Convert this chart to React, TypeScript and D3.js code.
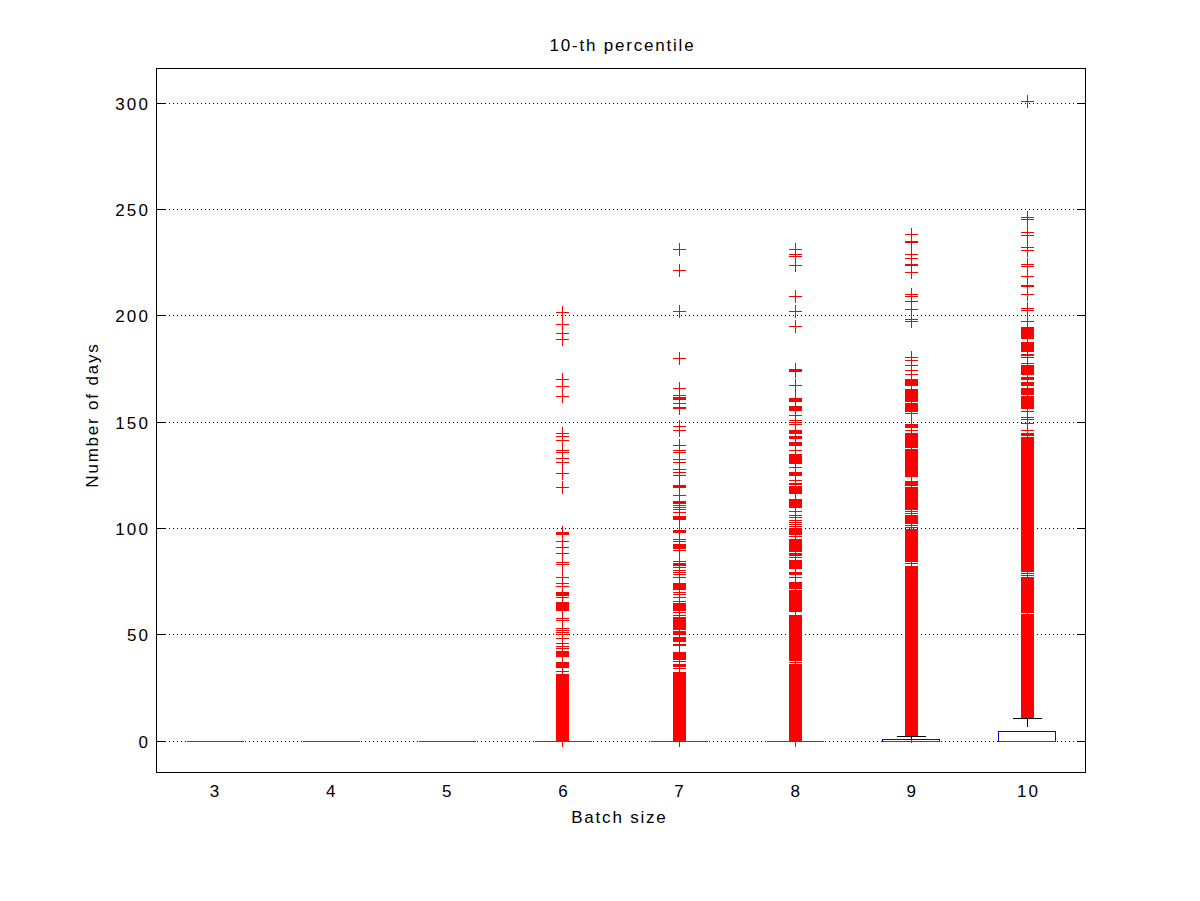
import React from 'react';
import * as d3 from 'd3';

const categories = ['3', '4', '5', '6', '7', '8', '9', '10'];
const q1 = [0, 0, 0, 0, 0, 0, 0, 0];
const medians = [0, 0, 0, 0, 0, 0, 0, 0];
const q3 = [0, 0, 0, 0, 0, 0, 0.65, 4.3];
const whiskerLow = [0, 0, 0, 0, 0, 0, 0, 0];
const whiskerHigh = [0, 0, 0, 0, 0, 0, 2.1, 10.4];

const outliers6 = [201.4, 195.8, 191.5, 188.7, 169.9, 166.6, 161.9, 144.5, 143.1, 141.2, 136.8, 135.8, 132.7, 130.9, 125.7, 119.1, 93.7, 90.9, 88.0, 84.1, 83.0, 77.0, 73.9, 72.8, 67.6, 57.8, 56.7, 53.1, 52.0, 51.0, 49.9, 48.4, 45.7, 44.6, 43.7, 32.8];
const dense6: [number, number][] = [[97.1, 98.2], [68.4, 70.0], [61.4, 65.0], [39.8, 42.1], [34.7, 36.8], [0.2, 31.1]];

const outliers7 = [231.3, 221.1, 201.9, 180.1, 165.8, 162.6, 158.8, 147.9, 145.9, 138.8, 136.7, 135.8, 132.4, 131.2, 127.5, 126.2, 125.0, 115.6, 110.8, 109.9, 108.7, 107.6, 104.1, 94.9, 93.8, 89.7, 84.6, 81.6, 80.3, 79.3, 78.1, 76.8, 70.0, 68.7, 67.6, 65.7, 60.4, 59.0, 45.5, 44.7, 37.5, 33.9];
const dense7: [number, number][] = [[160.8, 161.6], [156.2, 157.0], [119.3, 120.1], [111.7, 112.5], [104.8, 105.6], [98.2, 99.0], [90.6, 92.5], [82.7, 83.5], [72.8, 73.9], [71.1, 72.0], [61.2, 64.7], [52.5, 58.0], [50.1, 51.7], [46.6, 48.8], [38.5, 41.8], [35.0, 35.9], [0.2, 32.3]];

const outliers8 = [231.3, 228.9, 227.8, 223.8, 208.9, 201.9, 194.8, 167.2, 152.9, 150.6, 149.8, 149.0, 136.7, 128.8, 122.3, 108.1, 106.0, 104.9, 103.8, 102.9, 101.9, 100.9, 96.2, 94.9, 86.2, 77.1, 36.9];
const dense8: [number, number][] = [[173.6, 174.9], [159.8, 161.0], [155.5, 157.2], [144.5, 145.9], [142.1, 143.2], [138.9, 140.4], [133.5, 134.7], [130.7, 132.8], [124.8, 126.2], [120.5, 121.1], [116.5, 119.6], [112.4, 113.4], [109.7, 111.9], [97.3, 99.8], [89.3, 94.1], [87.1, 88.1], [81.1, 84.9], [78.2, 79.2], [71.5, 74.7], [67.1, 70.7], [60.7, 66.5], [37.8, 58.8], [0.2, 35.8]];

const outliers9 = [238.4, 228.7, 226.7, 224.3, 223.5, 220.3, 209.9, 208.9, 206.8, 202.9, 198.1, 197.1, 180.5, 178.8, 176.8, 174.4, 172.4, 153.8, 146.0, 137.3, 136.6, 107.9, 106.8, 101.5, 100.6, 83.6, 82.3, 81.4];
const dense9: [number, number][] = [[234.3, 235.1], [167.1, 170.0], [162.6, 165.5], [159.8, 161.9], [154.9, 158.7], [147.5, 148.8], [142.5, 144.4], [137.9, 141.8], [129.8, 136.0], [127.9, 129.2], [124.6, 127.1], [120.1, 122.2], [115.6, 119.3], [108.8, 114.9], [102.3, 106.0], [84.4, 99.5], [2.2, 81.0]];

const outliers10 = [301.0, 246.1, 245.1, 239.1, 237.7, 232.1, 230.6, 224.0, 223.0, 218.6, 214.2, 213.6, 209.9, 203.5, 202.5, 197.3, 180.4, 177.4, 155.2, 152.2, 151.2, 149.2, 146.2, 78.8, 77.8, 60.3];
const dense10: [number, number][] = [[189.4, 194.4], [183.4, 187.3], [181.4, 182.0], [172.3, 176.4], [169.9, 170.9], [167.3, 168.7], [162.9, 165.9], [156.6, 161.9], [143.6, 144.8], [79.8, 142.8], [60.7, 76.8], [10.6, 59.7]];

const outliers: number[][] = [[], [], [], outliers6, outliers7, outliers8, outliers9, outliers10];
const denseRuns: [number, number][][] = [[], [], [], dense6, dense7, dense8, dense9, dense10];

const yTicks = [0, 50, 100, 150, 200, 250, 300];
const title = '10-th percentile';
const xLabel = 'Batch size';
const yLabel = 'Number of days';

const FONT = '"Liberation Sans", Arial, Helvetica, sans-serif';
const FS = 17;
const LS_TICK = 2.2;
const LS_LABEL = 1.8;

export default function App() {
  const left = 156.5, right = 1085.5, top = 68.5, bottom = 772.5;
  const x = d3.scaleLinear().domain([0.5, categories.length + 0.5]).range([left, right]);
  const y = d3.scaleLinear().domain([-15.05, 316.05]).range([bottom, top]);
  const boxHalf = x(1.25) - x(1);
  const capHalf = boxHalf / 2;
  const py = (v: number) => Math.round(y(v)) + 0.5;
  const arm = 6.5;

  return (
    <svg width={1200} height={901} style={{ position: 'absolute', left: 0, top: 0, background: '#fff' }}>
      <rect x={0} y={0} width={1200} height={901} fill="#fff" />
      {/* grid */}
      {yTicks.map((t) => (
        <line key={'g' + t} x1={left} x2={right} y1={py(t)} y2={py(t)} stroke="#000" strokeWidth={1} strokeDasharray="1,3" shapeRendering="crispEdges" />
      ))}
      {/* outliers */}
      {categories.map((c, i) => {
        const cx = Math.floor(x(i + 1)) + 0.5;
        return (
          <g key={'o' + c} stroke="#ff0000" strokeWidth={1} fill="none" shapeRendering="crispEdges">
            {outliers[i].map((v, k) => {
              const yy = py(v);
              return <path key={k} d={`M${cx - arm},${yy}H${cx + arm}M${cx},${yy - arm}V${yy + arm}`} />;
            })}
            {denseRuns[i].map(([lo, hi], k) => {
              const y1 = py(hi);
              const y2 = py(lo);
              return (
                <g key={'d' + k}>
                  <rect x={cx - arm} y={y1 - 0.5} width={arm * 2} height={y2 - y1 + 1} fill="#ff0000" stroke="none" />
                  <path d={`M${cx},${y1 - arm}V${y2 + arm}`} />
                </g>
              );
            })}
          </g>
        );
      })}
      {/* whiskers, caps, boxes, medians */}
      {categories.map((c, i) => {
        const cx = Math.floor(x(i + 1)) + 0.5;
        const bx0 = Math.round(x(i + 1) - boxHalf) + 0.5;
        const bx1 = Math.round(x(i + 1) + boxHalf) - 0.5;
        return (
          <g key={'b' + c} shapeRendering="crispEdges">
            {whiskerHigh[i] > q3[i] && (
              <line x1={cx} x2={cx} y1={py(whiskerHigh[i])} y2={py(q3[i])} stroke="#000" strokeDasharray="8,4" />
            )}
            {whiskerLow[i] < q1[i] && (
              <line x1={cx} x2={cx} y1={py(q1[i])} y2={py(whiskerLow[i])} stroke="#000" strokeDasharray="8,4" />
            )}
            <line x1={cx - capHalf} x2={cx + capHalf} y1={py(whiskerHigh[i])} y2={py(whiskerHigh[i])} stroke="#000" />
            <line x1={cx - capHalf} x2={cx + capHalf} y1={py(whiskerLow[i])} y2={py(whiskerLow[i])} stroke="#000" />
            <rect x={bx0} y={py(q3[i])} width={bx1 - bx0} height={py(q1[i]) - py(q3[i])} fill="none" stroke="#0000ff" />
            <line x1={bx0} x2={bx1} y1={py(medians[i])} y2={py(medians[i])} stroke="#ff0000" />
          </g>
        );
      })}
      {/* axes frame */}
      <rect x={left} y={top} width={right - left} height={bottom - top} fill="none" stroke="#000" shapeRendering="crispEdges" />
      {yTicks.map((t) => (
        <g key={'t' + t}>
          <line x1={left} x2={left + 9} y1={py(t)} y2={py(t)} stroke="#000" shapeRendering="crispEdges" />
          <line x1={right - 9} x2={right} y1={py(t)} y2={py(t)} stroke="#000" shapeRendering="crispEdges" />
          <text x={148 + LS_TICK} y={py(t)} dy="0.36em" textAnchor="end" fontFamily={FONT} fontSize={FS} letterSpacing={LS_TICK}>
            {t}
          </text>
        </g>
      ))}
      {categories.map((c, i) => (
        <text key={'xl' + c} x={x(i + 1) + LS_TICK / 2} y={797} textAnchor="middle" fontFamily={FONT} fontSize={FS} letterSpacing={LS_TICK}>
          {c}
        </text>
      ))}
      <text x={621.5 + LS_LABEL / 2} y={51} textAnchor="middle" fontFamily={FONT} fontSize={FS} letterSpacing={LS_LABEL}>
        {title}
      </text>
      <text x={618.5 + LS_LABEL / 2} y={823} textAnchor="middle" fontFamily={FONT} fontSize={FS} letterSpacing={LS_LABEL}>
        {xLabel}
      </text>
      <text transform={`translate(98, ${416 - LS_LABEL / 2}) rotate(-90)`} textAnchor="middle" fontFamily={FONT} fontSize={FS} letterSpacing={LS_LABEL}>
        {yLabel}
      </text>
    </svg>
  );
}
